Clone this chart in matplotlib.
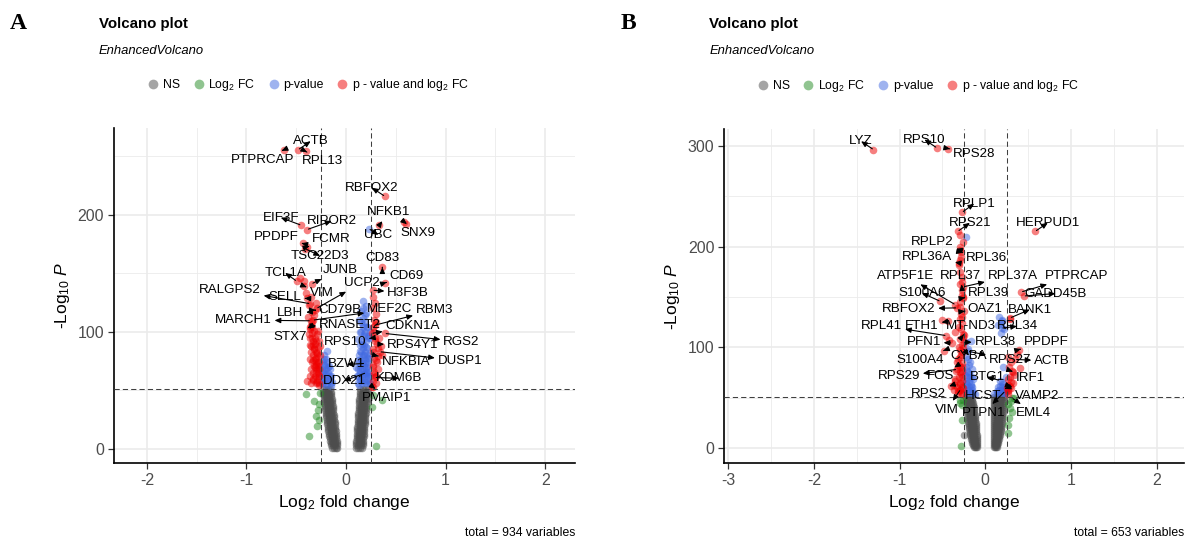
import matplotlib
matplotlib.use("Agg")
import matplotlib.pyplot as plt
from matplotlib.lines import Line2D
import numpy as np

plt.rcParams["font.family"] = "Liberation Sans"
plt.rcParams["mathtext.fontset"] = "custom"
plt.rcParams["mathtext.rm"] = "Liberation Sans"
plt.rcParams["mathtext.it"] = "Liberation Sans:italic"

FC_CUT = 0.25
P_CUT = 51

COL_NS, COL_FC, COL_P, COL_BOTH = "#4d4d4d", "#228b22", "#4169e1", "#ee0000"

# ---------------- panel A ----------------
genes_a = ["PTPRCAP", "ACTB", "RPL13", "RBFOX2", "NFKB1", "SNX9", "UBC", "EIF3F",
           "RIPOR2", "PPDPF", "FCMR", "TSC22D3", "CD83", "JUNB", "TCL1A", "CD69",
           "UCP2", "H3F3B", "RALGPS2", "SELL", "VIM", "CD79B", "MEF2C", "RBM3",
           "LBH", "MARCH1", "RNASET2", "CDKN1A", "STX7", "RGS2", "RPS10", "RPS4Y1",
           "DUSP1", "NFKBIA", "BZW1", "KDM6B", "DDX21", "PMAIP1"]
gene_x_a = [-0.62, -0.48, -0.405, 0.39, 0.335, 0.585, 0.23, -0.45,
            -0.39, -0.435, -0.39, -0.41, 0.365, -0.345, -0.495, 0.39,
            -0.295, 0.268, -0.36, -0.395, -0.42, -0.31, -0.33, 0.29,
            -0.345, -0.355, -0.35, 0.258, -0.36, 0.39, 0.24, 0.31,
            0.34, 0.325, 0.19, 0.29, 0.2, 0.268]
gene_y_a = [255.5, 255.5, 254, 215.7, 191, 193.8, 188, 191,
            187.3, 175.4, 172.5, 171, 155, 141, 143.2, 141.8,
            120, 135.5, 124, 128.5, 139, 118.5, 110, 105.7,
            117, 109.4, 105, 98.6, 104.3, 98.6, 94.4, 89.5,
            83, 79.3, 73, 61, 65, 53.1]
label_x_a = [-0.84, -0.355, -0.234, 0.26, 0.43, 0.72, 0.325, -0.655,
             -0.145, -0.70, -0.145, -0.26, 0.365, -0.06, -0.61, 0.61,
             0.157, 0.625, -1.165, -0.61, -0.245, -0.06, 0.44, 0.89,
             -0.56, -1.03, 0.04, 0.67, -0.56, 1.16, -0.01, 0.67,
             1.145, 0.60, 0.007, 0.535, -0.02, 0.41]
label_y_a = [247, 262.6, 245.8, 223, 202, 184.4, 182.7, 197.5,
             194.6, 181, 179.6, 164.8, 162.6, 152.6, 150.3, 147.8,
             141.8, 133.3, 136, 129.3, 133.3, 118.5, 119.1, 118.5,
             115.7, 110, 105.7, 104.9, 95.7, 91.5, 91.5, 88.7,
             75.3, 74.4, 72.2, 60.3, 58, 43.7]

# unlabelled coloured points, panel A (colour follows the cut-offs)
pts_x_a = [
    -0.36, -0.34, -0.36, -0.33, -0.35, -0.31, -0.32, -0.29, -0.30, -0.33, -0.28, -0.31,
    -0.28, -0.30, -0.27, -0.33, -0.29, -0.39, -0.27, -0.30, -0.26, -0.34, -0.38, -0.32,
    -0.37, -0.30, -0.35, -0.42, -0.40, -0.46,
    -0.35, -0.30, -0.27, -0.33, -0.29, -0.36, -0.31, -0.27, -0.33, -0.28, -0.35, -0.30,
    -0.27, -0.32, -0.28, -0.34, -0.30, -0.27, -0.36, -0.31, -0.33, -0.29, -0.26, -0.35,
    -0.30, -0.32, -0.28, -0.36, -0.33, -0.30, -0.27, -0.34, -0.31, -0.37, -0.29, -0.32,
    -0.28, -0.34,
    -0.19, -0.22, -0.18, -0.23, -0.20, -0.16, -0.22, -0.18, -0.14, -0.24, -0.20, -0.15,
    -0.22, -0.23, -0.19, -0.15, -0.21, -0.17, -0.24, -0.19, -0.15, -0.22, -0.18, -0.24,
    -0.20, -0.16, -0.21, -0.17, -0.23, -0.19, -0.20, -0.22,
    0.17, 0.20, 0.15, 0.19, 0.13, 0.17, 0.21, 0.14, 0.18, 0.22, 0.12, 0.16, 0.20, 0.14,
    0.18, 0.22, 0.12, 0.16, 0.20, 0.10, 0.14, 0.18, 0.22, 0.11, 0.15, 0.19, 0.23, 0.13,
    0.21, 0.24, 0.24,
    0.12, 0.16, 0.20, 0.24, 0.14, 0.18, 0.22, 0.12, 0.16, 0.20, 0.24, 0.14, 0.18, 0.22,
    0.12, 0.16, 0.20, 0.14, 0.18, 0.22, 0.13, 0.17, 0.21, 0.15, 0.19, 0.23, 0.13, 0.17,
    0.21, 0.15, 0.19, 0.17, 0.21, 0.14, 0.18, 0.16, 0.20, 0.18, 0.22, 0.15, 0.19, 0.17,
    0.21, 0.15, 0.19, 0.17, 0.20, 0.17,
    0.27, 0.30, 0.28, 0.33, 0.29, 0.27, 0.36, 0.30, 0.27, 0.32, 0.28, 0.30, 0.26, 0.28,
    0.35, 0.60,
    0.27, 0.30, 0.28, 0.27, 0.31, 0.28, 0.27, 0.32, 0.29, 0.27, 0.30, 0.27, 0.29,
    -0.40, -0.32, -0.285, -0.30, -0.27, -0.37, -0.27, 0.30, 0.26, 0.36, 0.27, -0.26, -0.29]
pts_y_a = [
    102, 99, 95, 92, 88, 90, 85, 82, 78, 76, 74, 70,
    68, 65, 62, 60, 57, 58, 55, 72, 88, 108, 113, 114,
    123, 125, 130, 143, 133, 146,
    56, 56, 56, 59, 59, 62, 62, 62, 65, 65, 68, 68,
    68, 71, 71, 74, 74, 74, 77, 77, 80, 80, 80, 83,
    83, 86, 86, 89, 89, 92, 92, 95, 95, 98, 98, 101,
    101, 104,
    84, 72, 70, 66, 64, 62, 60, 58, 57, 56, 55, 54,
    77, 56, 56, 56, 59, 59, 62, 62, 62, 65, 65, 68,
    68, 68, 71, 71, 74, 74, 77, 80,
    126, 122, 118, 114, 110, 106, 104, 100, 98, 95, 94, 90, 87, 84,
    80, 78, 76, 73, 70, 70, 67, 64, 62, 62, 59, 57, 56, 55,
    66, 82, 100,
    56, 56, 56, 56, 59, 59, 59, 62, 62, 62, 62, 65, 65, 65,
    68, 68, 68, 71, 71, 71, 74, 74, 74, 77, 77, 77, 80, 80,
    80, 83, 83, 86, 86, 89, 89, 92, 92, 96, 96, 100, 100, 104,
    104, 108, 108, 112, 116, 120,
    130, 115, 110, 95, 92, 85, 80, 76, 72, 68, 64, 56, 53, 100,
    88, 192,
    58, 62, 66, 70, 74, 78, 83, 86, 95, 104, 108, 120, 125,
    46.6, 41, 33, 28, 25, 11, 38, 2.6, 36, 42, 46, 48, 20]

# grey (NS) cloud, panel A: one row per -log10 P level, four fold changes each
grey_rows_a = [
    (51, -0.232, -0.204, -0.181, -0.157), (49, -0.226, -0.199, -0.176, -0.152),
    (47, -0.229, -0.203, -0.172, -0.149), (45, -0.221, -0.196, -0.170, -0.146),
    (43, -0.224, -0.193, -0.167, -0.143), (41, -0.216, -0.190, -0.165, -0.140),
    (39, -0.219, -0.188, -0.162, -0.137), (37, -0.211, -0.185, -0.160, -0.134),
    (35, -0.207, -0.181, -0.156, -0.131), (33, -0.210, -0.178, -0.153, -0.128),
    (31, -0.201, -0.176, -0.151, -0.126), (29, -0.197, -0.173, -0.148, -0.123),
    (27, -0.199, -0.170, -0.144, -0.120), (25, -0.192, -0.167, -0.141, -0.118),
    (23, -0.188, -0.163, -0.139, -0.115), (21, -0.190, -0.160, -0.136, -0.112),
    (19, -0.183, -0.157, -0.133, -0.110), (17, -0.179, -0.154, -0.130, -0.107),
    (15, -0.176, -0.151, -0.127, -0.104), (13, -0.172, -0.148, -0.124, -0.101),
    (11, -0.168, -0.144, -0.121, -0.099), (9, -0.164, -0.140, -0.118, -0.097),
    (7, -0.159, -0.136, -0.114, -0.095), (5, -0.153, -0.131, -0.111, -0.093),
    (3, -0.146, -0.126, -0.107, -0.091), (1, -0.137, -0.118, -0.102, -0.090),
    (51, 0.142, 0.168, 0.193, 0.218), (49, 0.140, 0.166, 0.192, 0.216),
    (47, 0.138, 0.164, 0.190, 0.215), (45, 0.137, 0.162, 0.188, 0.213),
    (43, 0.135, 0.160, 0.186, 0.211), (41, 0.133, 0.159, 0.184, 0.209),
    (39, 0.132, 0.157, 0.182, 0.207), (37, 0.130, 0.155, 0.180, 0.205),
    (35, 0.128, 0.153, 0.178, 0.203), (33, 0.127, 0.151, 0.176, 0.200),
    (31, 0.125, 0.150, 0.174, 0.198), (29, 0.123, 0.148, 0.172, 0.196),
    (27, 0.122, 0.146, 0.170, 0.194), (25, 0.120, 0.144, 0.168, 0.192),
    (23, 0.118, 0.142, 0.166, 0.190), (21, 0.117, 0.140, 0.164, 0.187),
    (19, 0.115, 0.139, 0.162, 0.185), (17, 0.113, 0.137, 0.160, 0.183),
    (15, 0.112, 0.135, 0.158, 0.181), (13, 0.110, 0.133, 0.156, 0.179),
    (11, 0.108, 0.131, 0.154, 0.177), (9, 0.107, 0.129, 0.152, 0.174),
    (7, 0.105, 0.127, 0.150, 0.172), (5, 0.103, 0.126, 0.148, 0.170),
    (3, 0.102, 0.124, 0.146, 0.168), (1, 0.100, 0.122, 0.143, 0.165)]

# ---------------- panel B ----------------
genes_b = ["LYZ", "RPS10", "RPS28", "RPLP1", "RPS21", "HERPUD1", "RPLP2", "RPL36A",
           "RPL36", "ATP5F1E", "RPL37", "RPL37A", "PTPRCAP", "S100A6", "RPL39",
           "GADD45B", "RBFOX2", "OAZ1", "BANK1", "RPL41", "FTH1", "MT-ND3", "RPL34",
           "PFN1", "RPL38", "PPDPF", "S100A4", "CYBA", "RPS27", "ACTB", "FOS",
           "RPS29", "BTG1", "IRF1", "RPS2", "HCST", "VAMP2", "VIM", "PTPN1", "EML4"]
gene_x_b = [-1.305, -0.565, -0.43, -0.27, -0.32, 0.584, -0.30, -0.31,
            -0.28, -0.35, -0.27, -0.26, 0.42, -0.525, -0.26,
            0.45, -0.33, -0.253, 0.29, -0.455, -0.43, -0.253, 0.19,
            -0.39, -0.253, 0.39, -0.487, -0.26, -0.2, 0.35, -0.31,
            -0.33, 0.17, 0.31, -0.37, 0.253, 0.29, -0.29, 0.23, 0.31]
gene_y_b = [296.5, 298.2, 297.5, 234.2, 215.3, 215.3, 197, 183.9,
            194.4, 142.4, 157.4, 160, 155, 145.7, 149,
            151, 139.2, 135.8, 129.2, 111.6, 125.8, 112.6, 119,
            104.4, 105, 97.7, 96.7, 99, 96, 88, 82.8,
            78, 67, 76.2, 62.9, 59.6, 61.2, 58, 56.3, 49.7]
label_x_b = [-1.45, -0.71, -0.13, -0.13, -0.18, 0.73, -0.62, -0.68,
             0.012, -0.935, -0.29, 0.32, 1.07, -0.74, 0.04,
             0.82, -0.895, 0.0, 0.52, -1.21, -0.74, -0.17, 0.37,
             -0.72, 0.117, 0.71, -0.76, -0.19, 0.29, 0.78, -0.525,
             -1.01, 0.02, 0.525, -0.66, -0.02, 0.60, -0.45, -0.02, 0.565]
label_y_b = [304.8, 306.5, 292.5, 242.8, 223.7, 223.7, 204.8, 189.5,
             188.9, 171.3, 171.3, 171.3, 171.3, 154, 154,
             153.4, 138.2, 138.2, 137.5, 121.6, 121.6, 121.6, 120.9,
             105, 105, 105, 87.8, 91.8, 87.8, 86.1, 71.2,
             71.2, 70.6, 69.6, 54, 52, 52, 38, 34.8, 34.8]

pts_x_b = [
    -0.26, -0.29, -0.28, -0.30, -0.27, -0.26, -0.29, -0.27, -0.30, -0.28, -0.26, -0.35,
    -0.31, -0.27, -0.29, -0.33, -0.27, -0.30, -0.27, -0.35, -0.29, -0.40, -0.26, -0.32,
    -0.27, -0.42, -0.50, -0.31, -0.29,
    -0.32, -0.27, -0.36, -0.29, -0.33, -0.27, -0.30, -0.35, -0.27, -0.31, -0.28, -0.34,
    -0.27, -0.30, -0.27, -0.32, -0.28, -0.30, -0.27, -0.29, -0.26, -0.31, -0.27, -0.28,
    -0.29, -0.27, -0.29, -0.27, -0.29,
    -0.20, -0.22, -0.18, -0.22, -0.16, -0.20, -0.24, -0.18, -0.14, -0.22, -0.17, -0.20,
    -0.15, -0.12, -0.23, -0.17, -0.225,
    -0.22, -0.18, -0.14, -0.20, -0.16, -0.23, -0.19, -0.15, -0.21, -0.17, -0.23, -0.19,
    -0.21, -0.16, -0.19, -0.21, -0.19, -0.20,
    0.16, 0.20, 0.15, 0.22, 0.18, 0.21, 0.17, 0.20, 0.14, 0.23, 0.10, 0.19, 0.24,
    0.14, 0.18, 0.22, 0.16, 0.20, 0.24, 0.15, 0.19, 0.23, 0.21, 0.18, 0.20,
    0.30, 0.27, 0.33, 0.28, 0.37, 0.30, 0.27, 0.26, 0.32, 0.40, 0.29,
    0.27, 0.30, 0.27, 0.32, 0.29, 0.27,
    -0.27, -0.25, -0.28, -0.29, -0.27, 0.31, 0.27, 0.34, 0.27, 0.29, 0.28, 0.26,
    -0.26, -0.30, 0.30]
pts_y_b = [
    205, 200, 190, 175, 165, 150, 140, 130, 128, 118, 110, 115,
    100, 95, 90, 85, 80, 75, 70, 68, 65, 62, 60, 57,
    54, 107, 127, 182, 212,
    55, 55, 58, 58, 61, 61, 64, 67, 67, 70, 73, 76,
    76, 80, 84, 88, 92, 97, 102, 108, 113, 120, 124, 133,
    145, 152, 163, 170, 187,
    98, 90, 85, 80, 78, 75, 72, 70, 68, 65, 62, 58,
    56, 54, 105, 106, 209.7,
    55, 55, 55, 58, 58, 61, 61, 61, 64, 64, 67, 67,
    70, 70, 73, 76, 82, 88,
    130, 126, 122, 118, 114, 80, 62, 58, 57, 55, 54, 66, 70,
    55, 55, 55, 58, 58, 58, 61, 61, 61, 64, 123, 127,
    60, 63, 72, 80, 93, 85, 57, 54, 65, 79, 128,
    58, 66, 68, 75, 70, 90,
    43, 13, 2, 45, 28, 36, 23, 50, 44, 40, 30, 15,
    48, 48, 47]

grey_rows_b = [
    (51, -0.222, -0.202, -0.182, -0.162), (49, -0.221, -0.199, -0.177, -0.155),
    (47, -0.219, -0.196, -0.173, -0.150), (45, -0.217, -0.193, -0.169, -0.145),
    (43, -0.215, -0.191, -0.166, -0.141), (41, -0.213, -0.188, -0.163, -0.137),
    (39, -0.211, -0.186, -0.160, -0.134), (37, -0.209, -0.183, -0.157, -0.131),
    (35, -0.207, -0.181, -0.154, -0.128), (33, -0.205, -0.178, -0.151, -0.125),
    (31, -0.203, -0.176, -0.149, -0.122), (29, -0.201, -0.174, -0.146, -0.119),
    (27, -0.199, -0.171, -0.144, -0.116), (25, -0.197, -0.169, -0.141, -0.113),
    (23, -0.194, -0.166, -0.139, -0.111), (21, -0.191, -0.164, -0.137, -0.109),
    (19, -0.188, -0.161, -0.135, -0.107), (17, -0.184, -0.158, -0.133, -0.105),
    (15, -0.180, -0.155, -0.131, -0.103), (13, -0.175, -0.152, -0.129, -0.102),
    (11, -0.170, -0.148, -0.127, -0.101), (9, -0.164, -0.144, -0.124, -0.100),
    (7, -0.158, -0.139, -0.121, -0.100), (5, -0.151, -0.134, -0.118, -0.100),
    (3, -0.143, -0.128, -0.114, -0.100), (1, -0.134, -0.122, -0.110, -0.100),
    (51, 0.100, 0.140, 0.180, 0.218), (49, 0.100, 0.139, 0.178, 0.216),
    (47, 0.100, 0.138, 0.176, 0.214), (45, 0.100, 0.137, 0.174, 0.212),
    (43, 0.100, 0.136, 0.173, 0.210), (41, 0.100, 0.136, 0.172, 0.208),
    (39, 0.100, 0.135, 0.170, 0.206), (37, 0.100, 0.134, 0.169, 0.204),
    (35, 0.100, 0.134, 0.168, 0.202), (33, 0.100, 0.133, 0.166, 0.200),
    (31, 0.100, 0.132, 0.165, 0.198), (29, 0.100, 0.132, 0.164, 0.196),
    (27, 0.100, 0.131, 0.162, 0.194), (25, 0.100, 0.130, 0.161, 0.192),
    (23, 0.100, 0.129, 0.159, 0.189), (21, 0.100, 0.128, 0.157, 0.186),
    (19, 0.100, 0.127, 0.155, 0.183), (17, 0.100, 0.126, 0.153, 0.179),
    (15, 0.100, 0.125, 0.150, 0.175), (13, 0.100, 0.124, 0.147, 0.170),
    (11, 0.100, 0.122, 0.144, 0.165), (9, 0.100, 0.121, 0.141, 0.160),
    (7, 0.100, 0.119, 0.137, 0.154), (5, 0.100, 0.117, 0.133, 0.148),
    (3, 0.100, 0.115, 0.129, 0.142), (1, 0.100, 0.112, 0.124, 0.136)]


def point_colours(x, y):
    fc = np.abs(x) > FC_CUT
    sig = y > P_CUT
    return np.select([fc & sig, sig, fc], [COL_BOTH, COL_P, COL_FC], COL_NS)


def rows_to_points(rows):
    xs, ys = [], []
    for row in rows:
        for v in row[1:]:
            xs.append(v)
            ys.append(row[0])
    return xs, ys


def panel(fig, rect, letter, x, y, grey_rows, genes, gx, gy, lx, ly, xlim, ylim,
          xmajor, xminor, ymajor, total):
    ax = fig.add_axes(rect)
    rx, ry = rows_to_points(grey_rows)
    allx = np.array(rx + list(x) + list(gx))
    ally = np.array(ry + list(y) + list(gy))
    cols = point_colours(allx, ally)
    for c in (COL_NS, COL_FC, COL_P, COL_BOTH):
        m = cols == c
        ax.scatter(allx[m], ally[m], s=30, c=c, alpha=0.5, linewidths=0, zorder=2)

    for v in (-FC_CUT, FC_CUT):
        ax.axvline(v, color="#404040", lw=0.75, ls=(0, (5, 3)), zorder=3)
    ax.axhline(P_CUT, color="#404040", lw=0.75, ls=(0, (5, 3)), zorder=3)

    for g, px, py, tx, ty in zip(genes, gx, gy, lx, ly):
        ax.annotate(g, xy=(px, py), xytext=(tx, ty), ha="center", va="center",
                    fontsize=9.6, color="black", zorder=5,
                    arrowprops=dict(arrowstyle="<|-,head_length=0.5,head_width=0.22",
                                    color="black", lw=0.8, shrinkA=0, shrinkB=1,
                                    mutation_scale=7))

    ax.set_xlim(*xlim)
    ax.set_ylim(*ylim)
    ax.set_xticks(xmajor)
    ax.set_xticks(xminor, minor=True)
    ax.set_yticks(ymajor)
    ax.set_yticks([50, 150, 250], minor=True)
    ax.set_xticklabels([f"{t:g}" for t in xmajor])
    ax.grid(which="major", color="#ebebeb", lw=1.2)
    ax.grid(which="minor", color="#ebebeb", lw=0.6)
    ax.set_axisbelow(True)
    for s in ("top", "right"):
        ax.spines[s].set_visible(False)
    for s in ("left", "bottom"):
        ax.spines[s].set_linewidth(1.2)
        ax.spines[s].set_color("black")
    ax.tick_params(which="major", length=4, width=0.9, color="#333333",
                   labelcolor="#4d4d4d", labelsize=11.5, pad=3)
    ax.tick_params(which="minor", length=0)
    ax.set_xlabel("Log$_2$ fold change", fontsize=12.5, labelpad=4)
    ax.set_ylabel("-Log$_{10}$ $P$", fontsize=12.5, labelpad=4)

    left = rect[0]
    fig.text(left - 0.08, 0.957, letter, fontsize=17, fontweight="bold",
             family="Liberation Serif", ha="center", va="center")
    fig.text(left - 0.0125, 0.956, "Volcano plot", fontsize=10.8, fontweight="bold",
             ha="left", va="center")
    fig.text(left - 0.0125, 0.907, "EnhancedVolcano", fontsize=9.4, style="italic",
             ha="left", va="center")
    fig.text(rect[0] + rect[2], 0.020, f"total = {total} variables", fontsize=8.8,
             ha="right", va="center")

    handles = [Line2D([], [], ls="", marker="o", ms=7, mec="none", mfc=c, alpha=0.5)
               for c in (COL_NS, COL_FC, COL_P, COL_BOTH)]
    names = ["NS", "Log$_2$ FC", "p-value", "p - value and log$_2$ FC"]
    ax.legend(handles, names, loc="center", bbox_to_anchor=(0.42, 1.128), ncol=4,
              frameon=False, fontsize=8.8, handletextpad=0.2, columnspacing=0.9,
              handlelength=1.2, borderaxespad=0)
    return ax


fig = plt.figure(figsize=(11.92, 5.44), dpi=100)
panel(fig, [0.0956, 0.1489, 0.3868, 0.6158], "A", pts_x_a, pts_y_a, grey_rows_a,
      genes_a, gene_x_a, gene_y_a, label_x_a, label_y_a,
      (-2.33, 2.30), (-12, 274), [-2, -1, 0, 1, 2], [-1.5, -0.5, 0.5, 1.5],
      [0, 100, 200], 934)
panel(fig, [0.6074, 0.1489, 0.3859, 0.6140], "B", pts_x_b, pts_y_b, grey_rows_b,
      genes_b, gene_x_b, gene_y_b, label_x_b, label_y_b,
      (-3.05, 2.32), (-15, 317), [-3, -2, -1, 0, 1, 2],
      [-2.5, -1.5, -0.5, 0.5, 1.5], [0, 100, 200, 300], 653)

fig.savefig("out.png", dpi=100)
